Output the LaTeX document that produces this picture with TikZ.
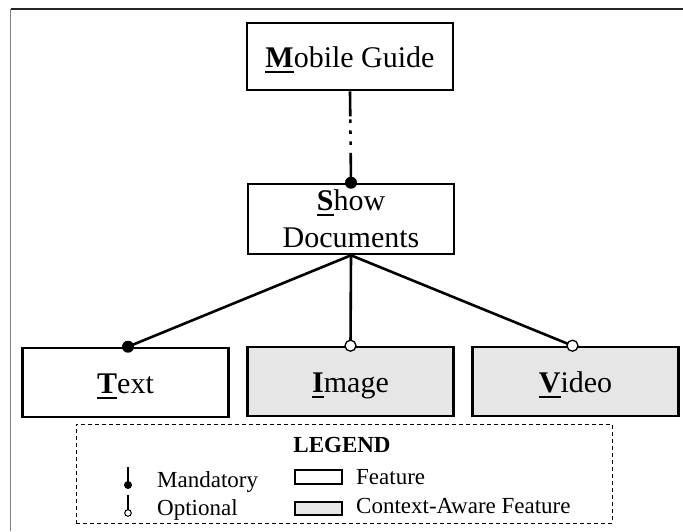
\documentclass[tikz,border=0pt]{standalone}
\usepackage{fontspec}
\setmainfont{Liberation Serif}
\definecolor{ctxgray}{RGB}{230,230,230}
% bold first letter with a heavy underline, as in feature-model key letters
\newsavebox\klbox
\newcommand\keyletter[1]{\sbox\klbox{\textbf{#1}}\rlap{\rule[-5.5pt]{\wd\klbox}{1.8pt}}\usebox\klbox}
\begin{document}
\begin{tikzpicture}[x=1pt, y=-1pt,
  feat/.style={draw, line width=2.6pt, minimum width=206pt, minimum height=69pt,
    inner sep=0pt, font=\fontsize{30}{37}\selectfont, align=center},
  oneline/.style={text height=21pt, text depth=0pt},
  ctx/.style={feat, fill=ctxgray},
  conn/.style={line width=2.6pt},
  lgtext/.style={inner sep=0pt, anchor=base west, font=\fontsize{23}{27}\selectfont},
  swatch/.style={draw, line width=1.2pt, minimum width=47pt, minimum height=14pt, inner sep=0pt}]
\useasboundingbox (0,0) rectangle (683,531);

% frame edges
\coordinate (fTL) at (10.5,9);
\coordinate (fTR) at (683,9);
\coordinate (fBL) at (10.5,531);
\draw[black!85, line width=1.6pt] (fTL) -- (fTR);
\draw[black!50, line width=1.6pt] (fTL) -- (fBL);

% features
\node[feat, oneline, minimum height=67pt] (mg) at (350,56.5) {\keyletter{M}obile Guide};
\node[feat, minimum height=70pt] (sd) at (351,219) {\keyletter{S}how\\Documents};
\node[feat, oneline] (tx) at (125.5,382.5) {\keyletter{T}ext};
\node[ctx, oneline] (im) at (350.5,381.5) {\keyletter{I}mage};
\node[ctx, oneline] (vd) at (575.5,381.5) {\keyletter{V}ideo};

% connectors
\coordinate (txdock) at ([xshift=2.5pt]tx.north);
\coordinate (vddock) at ([xshift=-3pt]vd.north);
\draw[conn, dash pattern=on 25pt off 3pt on 3.5pt off 7.5pt on 3.5pt off 7.5pt on 3.5pt off 8pt on 60pt]
  (mg.south) -- (sd.north);
\draw[conn] (sd.south) -- (txdock);
\draw[conn] (sd.south) -- (im.north);
\draw[conn] (sd.south) -- (vddock);
\fill (sd.north) circle (6pt);
\fill (txdock) circle (6pt);
\draw[line width=1.3pt, fill=white] (im.north) circle (5.5pt);
\draw[line width=1.3pt, fill=white] (vddock) circle (5.5pt);

% legend
\node[draw, dash pattern=on 4pt off 3pt, line width=1pt, minimum width=536pt, minimum height=99pt, inner sep=0pt]
  (legend) at (344,473.5) {};
\node[inner sep=0pt, anchor=base, font=\fontsize{23}{27}\selectfont\bfseries] (lgtitle) at (342,452) {LEGEND};

\coordinate (mtop) at (128,467);
\coordinate (mend) at (128,485);
\draw[line width=2pt] (mtop) -- (mend);
\fill (mend) circle (4pt);
\node[lgtext] (mlabel) at (157,487) {Mandatory};

\coordinate (otop) at (128,495);
\coordinate (oend) at (128,509.5);
\coordinate (odot) at (128,513);
\draw[line width=2pt] (otop) -- (oend);
\draw[line width=1pt, fill=white] (odot) circle (3.3pt);
\node[lgtext] (olabel) at (157,515) {Optional};

\node[swatch] (fsw) at (318.5,477) {};
\node[lgtext] (flabel) at (356,484) {Feature};
\node[swatch, fill=ctxgray, minimum height=13pt] (csw) at (318.5,508.5) {};
\node[lgtext] (clabel) at (356,513) {Context-Aware Feature};
\end{tikzpicture}
\end{document}
